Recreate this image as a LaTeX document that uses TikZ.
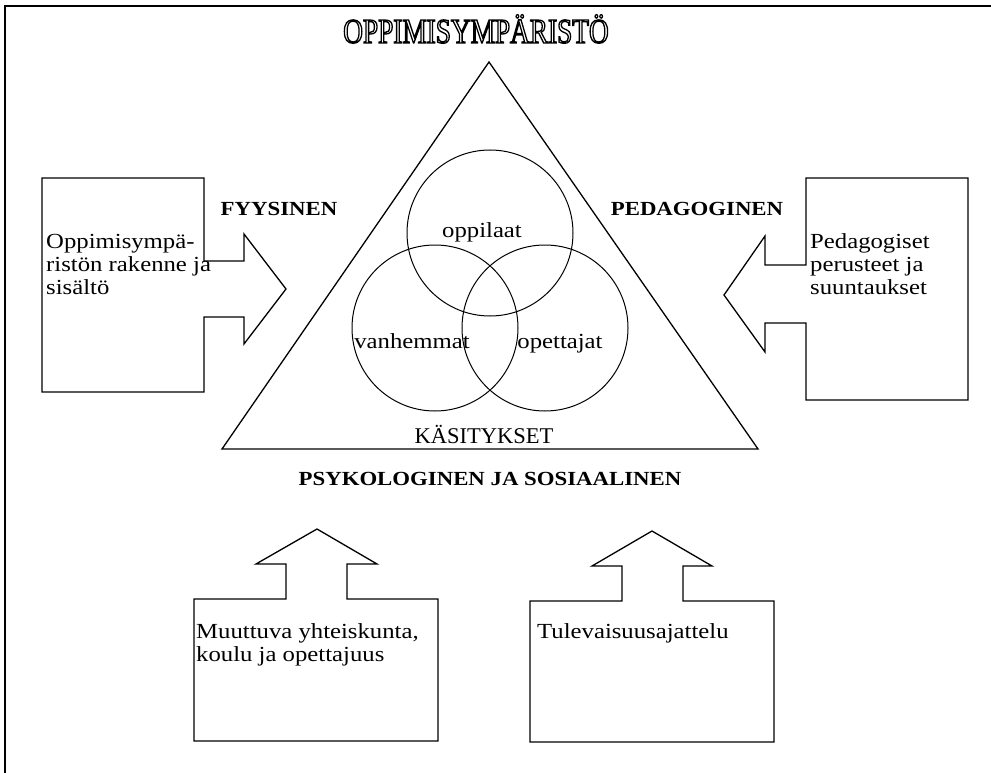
\documentclass[tikz,border=0pt]{standalone}
\usepackage{fontspec}
\setmainfont{Liberation Serif}
\newfontfamily\bodyfont[FakeStretch=1.15]{Liberation Serif}
\newfontfamily\labelfont[FakeStretch=1.14]{Liberation Serif}
\newfontfamily\titlefont[FakeStretch=0.78]{Liberation Serif}
% hollow (outlined) lettering via the PDF text render mode
\newcommand\hollowtext[1]{\special{pdf:literal direct 1 Tr 1.3 w}#1\special{pdf:literal direct 0 Tr 1 w}}

\tikzset{
  outline/.style={draw=black, line width=1.3pt, line join=miter},
  ring/.style={circle, draw=black, line width=1pt, minimum size=166pt, inner sep=0pt},
  % multi-line box texts are placed by the baseline of their last line
  boxtext/.style={font=\bodyfont\fontsize{21.5}{23}\selectfont, align=left, inner sep=0pt, anchor=base west},
  ringtext/.style={font=\bodyfont\fontsize{21.5}{23}\selectfont, inner sep=0pt, anchor=base},
  sidelabel/.style={font=\labelfont\bfseries\fontsize{20}{23}\selectfont, inner sep=0pt, anchor=base},
}

\begin{document}
\begin{tikzpicture}[x=1pt, y=-1pt]
\useasboundingbox (0,0) rectangle (991,773);

% frame: top and left edges
\draw[line width=2pt] (5,773) -- (5,6) -- (991,6);

% title
\node[font=\titlefont\fontsize{35}{40}\selectfont, inner sep=0pt, anchor=base] (title) at (476,43) {\hollowtext{OPPIMISYMPÄRISTÖ}};

% central triangle
\draw[outline] (489,62) -- (758,449) -- (222,449) -- cycle;

% overlapping circles
\node[ring] (ctop) at (490,233) {};
\node[ring] (cleft) at (435,328) {};
\node[ring] (cright) at (545,328) {};
\node[ringtext] (oppilaat) at (482,237) {oppilaat};
\node[ringtext] (vanhemmat) at (412,348) {vanhemmat};
\node[ringtext] (opettajat) at (560,348) {opettajat};
\node[font=\fontsize{22.5}{25}\selectfont, inner sep=0pt, anchor=base] (kasitykset) at (484,443) {KÄSITYKSET};

% side labels
\node[sidelabel] (fyysinen) at (279,215) {FYYSINEN};
\node[sidelabel] (pedagoginen) at (697,215) {PEDAGOGINEN};
\node[sidelabel] (psyk) at (490,485) {PSYKOLOGINEN JA SOSIAALINEN};

% left box with arrow pointing right
\draw[outline] (42,178) -- (204,178) -- (204,261) -- (244,261) -- (244,234) -- (286,289)
  -- (244,344) -- (244,317) -- (204,317) -- (204,392) -- (42,392) -- cycle;
\node[boxtext] (lefttext) at (46,294) {Oppimisympä-\\ristön rakenne ja\\sisältö};

% right box with arrow pointing left
\draw[outline] (806,178) -- (968,178) -- (968,400) -- (806,400) -- (806,323) -- (765,323)
  -- (765,352) -- (724,295) -- (765,236) -- (765,265) -- (806,265) -- cycle;
\node[boxtext] (righttext) at (810,294) {Pedagogiset\\perusteet ja\\suuntaukset};

% bottom boxes with arrows pointing up
\draw[outline] (194,741) -- (194,599) -- (286,599) -- (286,564) -- (256,564) -- (317,529)
  -- (377,564) -- (347,564) -- (347,599) -- (438,599) -- (438,741) -- cycle;
\node[boxtext] (bltext) at (196,661) {Muuttuva yhteiskunta,\\koulu ja opettajuus};

\draw[outline] (530,742) -- (530,601) -- (622,601) -- (622,566) -- (592,566) -- (652,531)
  -- (712,566) -- (683,566) -- (683,601) -- (774,601) -- (774,742) -- cycle;
\node[boxtext] (brtext) at (537,638) {Tulevaisuusajattelu};
\end{tikzpicture}
\end{document}
